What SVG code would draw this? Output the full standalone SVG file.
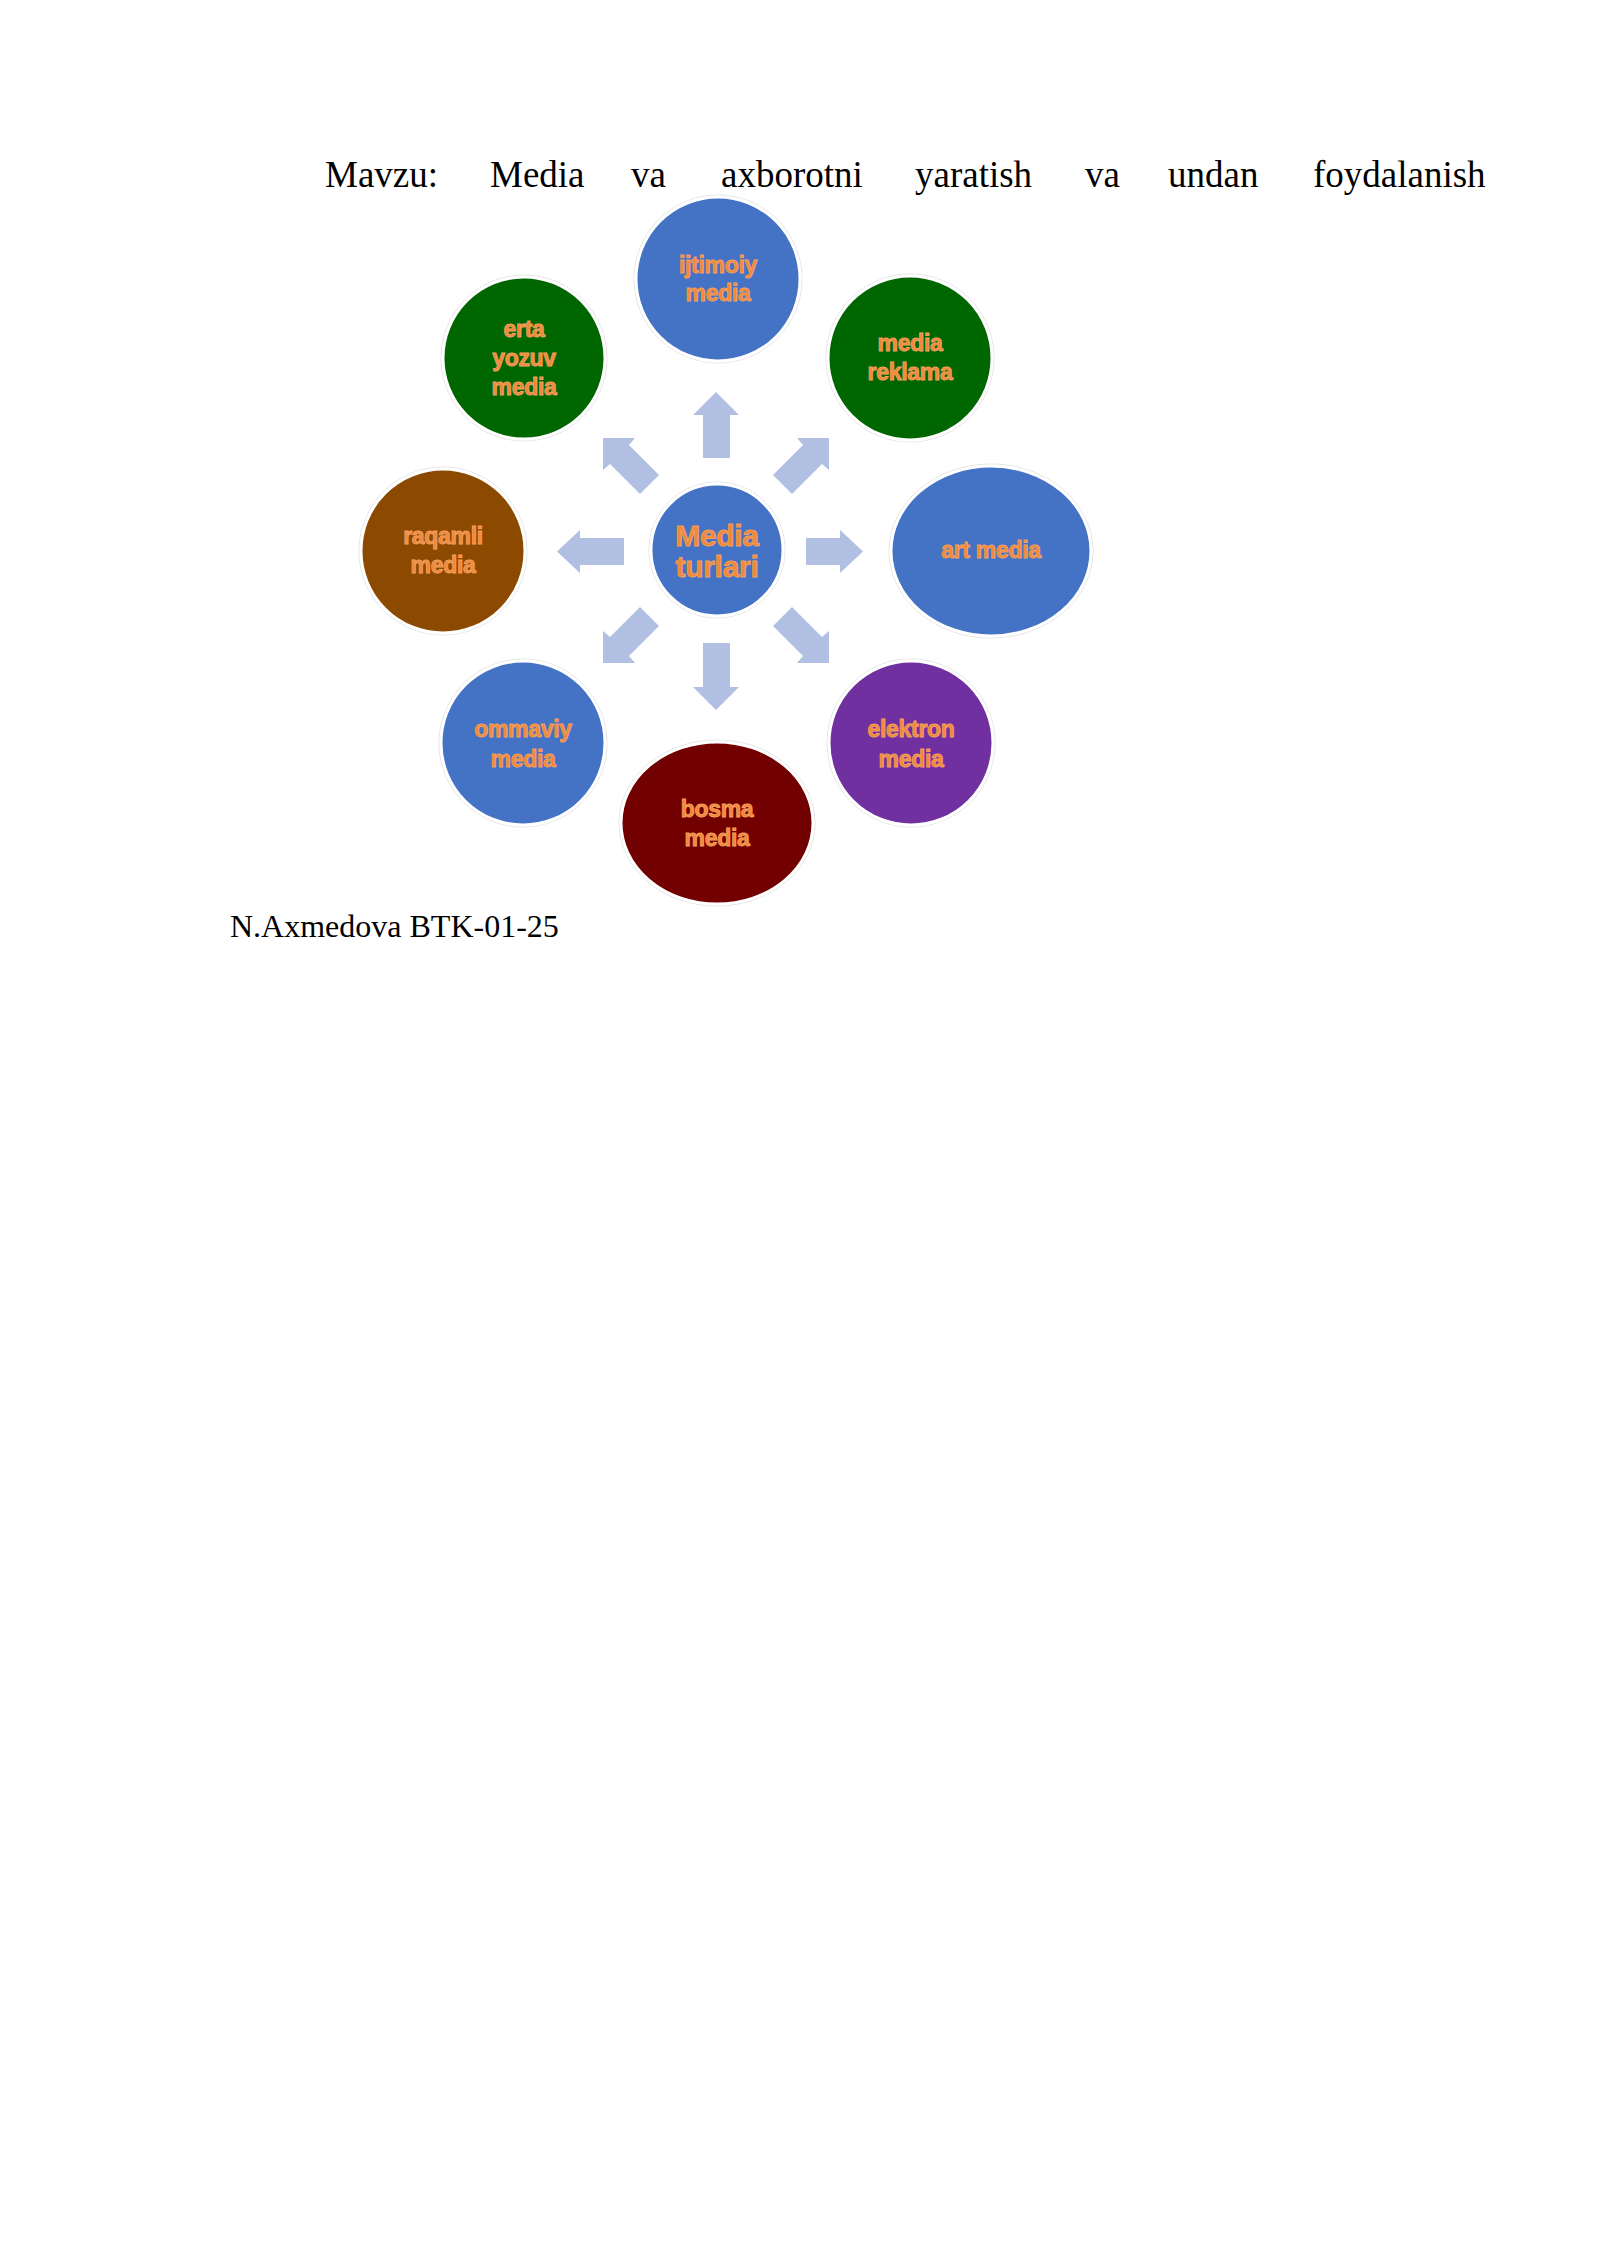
<svg xmlns="http://www.w3.org/2000/svg" width="1600" height="2262" viewBox="0 0 1600 2262">
  <style>
    .doc { font-family: "Liberation Serif", "Times New Roman", serif; fill: #000000; }
    .node { stroke: #ffffff; stroke-width: 3; }
    .ring { fill: none; stroke: #e4e4e4; stroke-width: 1; }
    .lbl { font-family: "Liberation Sans", Arial, sans-serif; font-weight: bold; font-size: 23px; fill: #F0883A; stroke: #F4A060; stroke-width: 0.9; text-anchor: middle; letter-spacing: -0.3px; }
    .lbl-c { font-size: 30px; }
    .arrow { fill: #B0BFE2; }
  </style>
  <rect x="0" y="0" width="1600" height="2262" fill="#ffffff"/>

  <text class="doc" font-size="37" y="187">
    <tspan x="325">Mavzu:</tspan>
    <tspan x="490">Media</tspan>
    <tspan x="631">va</tspan>
    <tspan x="721">axborotni</tspan>
    <tspan x="915">yaratish</tspan>
    <tspan x="1085">va</tspan>
    <tspan x="1168">undan</tspan>
    <tspan x="1313">foydalanish</tspan>
  </text>

  <g id="connectors">
    <polygon class="arrow" points="716,392 739,415 730,415 730,458 703,458 703,415 693,415"/>
    <polygon class="arrow" points="716,710 739,687 730,687 730,643 703,643 703,687 693,687"/>
    <polygon class="arrow" points="557,551.5 580,530 580,538 624,538 624,565 580,565 580,573"/>
    <polygon class="arrow" points="863,551.5 840,530 840,538 806,538 806,565 840,565 840,573"/>
    <polygon class="arrow" points="603,438 635,438 629,445 659,475 640,494 610,464 603,470"/>
    <polygon class="arrow" points="829,438 797,438 803,445 773,475 792,494 822,464 829,470"/>
    <polygon class="arrow" points="603,663 603,631 610,637 640,607 659,626 629,656 635,663"/>
    <polygon class="arrow" points="829,663 797,663 803,656 773,626 792,607 822,637 829,631"/>
  </g>

  <g id="node-center">
    <circle class="ring" cx="717" cy="550" r="68"/>
    <circle class="node" cx="717" cy="550" r="66" fill="#4472C4"/>
    <text class="lbl lbl-c" x="717" y="546">Media</text>
    <text class="lbl lbl-c" x="717" y="577">turlari</text>
  </g>

  <g id="node-ijtimoiy">
    <circle class="ring" cx="718" cy="279" r="84"/>
    <circle class="node" cx="718" cy="279" r="82" fill="#4472C4"/>
    <text class="lbl" x="718" y="273">ijtimoiy</text>
    <text class="lbl" x="718" y="301">media</text>
  </g>

  <g id="node-erta">
    <circle class="ring" cx="524" cy="358" r="83"/>
    <circle class="node" cx="524" cy="358" r="81" fill="#006600"/>
    <text class="lbl" x="524" y="337">erta</text>
    <text class="lbl" x="524" y="366">yozuv</text>
    <text class="lbl" x="524" y="395">media</text>
  </g>

  <g id="node-reklama">
    <circle class="ring" cx="910" cy="358" r="84"/>
    <circle class="node" cx="910" cy="358" r="82" fill="#006600"/>
    <text class="lbl" x="910" y="351">media</text>
    <text class="lbl" x="910" y="380">reklama</text>
  </g>

  <g id="node-raqamli">
    <circle class="ring" cx="443" cy="551" r="84"/>
    <circle class="node" cx="443" cy="551" r="82" fill="#8B4A00"/>
    <text class="lbl" x="443" y="544">raqamli</text>
    <text class="lbl" x="443" y="573">media</text>
  </g>

  <g id="node-art">
    <ellipse class="ring" cx="991" cy="551" rx="102" ry="87"/>
    <ellipse class="node" cx="991" cy="551" rx="100" ry="85" fill="#4472C4"/>
    <text class="lbl" x="991" y="558">art media</text>
  </g>

  <g id="node-ommaviy">
    <circle class="ring" cx="523" cy="743" r="84"/>
    <circle class="node" cx="523" cy="743" r="82" fill="#4472C4"/>
    <text class="lbl" x="523" y="737">ommaviy</text>
    <text class="lbl" x="523" y="767">media</text>
  </g>

  <g id="node-bosma">
    <ellipse class="ring" cx="717" cy="823" rx="98" ry="83"/>
    <ellipse class="node" cx="717" cy="823" rx="96" ry="81" fill="#720000"/>
    <text class="lbl" x="717" y="817">bosma</text>
    <text class="lbl" x="717" y="846">media</text>
  </g>

  <g id="node-elektron">
    <circle class="ring" cx="911" cy="743" r="84"/>
    <circle class="node" cx="911" cy="743" r="82" fill="#7030A0"/>
    <text class="lbl" x="911" y="737">elektron</text>
    <text class="lbl" x="911" y="767">media</text>
  </g>

  <text class="doc" font-size="32" x="230" y="937">N.Axmedova BTK-01-25</text>
</svg>
